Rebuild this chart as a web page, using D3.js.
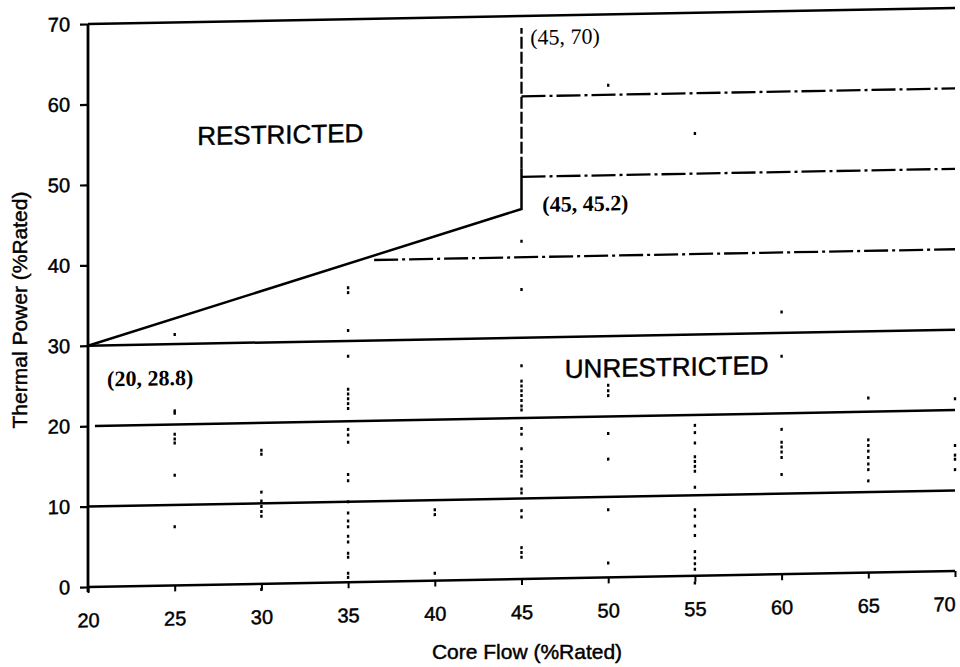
<!DOCTYPE html>
<html><head><meta charset="utf-8">
<script src="https://cdn.jsdelivr.net/npm/d3@7"></script>
<style>body{margin:0;background:#fff}svg{display:block}</style>
</head><body>
<svg id="c" width="960" height="667"></svg>
<script>
// ---- data ----
const flowTicks = [20,25,30,35,40,45,50,55,60,65,70];
const powerTicks = [0,10,20,30,40,50,60,70];
const solidLevels = [0,10,20,30,70];
const solidStarts = [20,20,20.4,20,20];
const dashedLevels = [40,50,60];
const dashedStarts = [36.5,45,45];
const lineEnd = 70;
const boundaryFlow = [20,45,45];
const boundaryPower = [30,46,51];
const verticalFlow = [45,45];
const verticalPower = [51,68.5];
const sampleFlows = [25,30,35,40,45,50,55,60,65,70];
const samplePowers = [
  [31.2,21.7,21.4,18.8,18.2,17.7,13.7,7.3],
  [16.6,16.1,11.4,10.3,9.6,9.0,8.4,-0.7],
  [36.6,36.0,31.3,28.1,24.0,23.4,22.8,22.2,21.6,19.0,18.3,17.4,13.4,12.6,10.0,8.6,7.6,6.9,5.7,5.0,3.6,3.1,1.1,0.6],
  [8.8,8.2,0.9],
  [42.0,36.0,26.5,24.6,24.0,23.4,22.8,22.2,21.5,21.0,18.7,18.0,16.2,14.6,14.0,13.4,12.8,11.2,10.7,8.5,7.7,3.9,3.3,2.7],
  [61.2,23.9,23.2,22.6,17.9,14.7,8.4,1.8],
  [55.0,18.7,17.8,16.5,14.8,14.2,13.6,13.0,11.0,8.2,7.4,6.2,5.0,3.0,2.2,1.5,0.8,-0.9],
  [32.6,27.1,18.0,16.4,15.8,15.2,14.5,12.4],
  [21.7,16.5,15.8,15.1,14.3,13.5,12.8,11.4],
  [21.4,15.6,14.4,13.9,12.6]
];
const regionLabels = ["RESTRICTED","UNRESTRICTED"];
const regionFlow = [26.3,47.5];
const regionPower = [54.7,24.9];
const pointLabels = ["(20, 28.8)","(45, 70)","(45, 45.2)"];
const pointLabelFlow = [21.1,45.5,46.2];
const pointLabelPower = [24.9,66.4,45.6];
const xTitle = "Core Flow (%Rated)";
const yTitle = "Thermal Power (%Rated)";

// ---- chart ----
const svg = d3.select("#c");
const sans = "'Liberation Sans', Arial, sans-serif";
const serif = "'Liberation Serif', 'Times New Roman', serif";
const x = d3.scaleLinear().domain([20,70]).range([0,867]);
const y = d3.scaleLinear().domain([0,70]).range([587,24]);

const g = svg.append("g").attr("transform","translate(88,0) skewY(-1.06)");

function heavy(sel){ sel.attr("stroke","#000").attr("stroke-width",0.45).attr("fill","#000"); }

// y axis
const ya = g.append("g").call(d3.axisLeft(y).tickValues(powerTicks).tickSize(8).tickSizeOuter(0).tickPadding(10));
ya.select(".domain").remove();
ya.selectAll(".tick line").attr("stroke","#000").attr("stroke-width",2.2);
ya.selectAll("text").attr("font-family",sans).attr("font-size",20).call(heavy);
g.append("line").attr("x1",0).attr("x2",0).attr("y1",y(70)).attr("y2",y(0)+5)
  .attr("stroke","#000").attr("stroke-width",2.8);

// x axis
const xa = g.append("g").attr("transform",`translate(0,${y(0)})`)
  .call(d3.axisBottom(x).tickValues(flowTicks).tickSize(6).tickSizeOuter(0).tickPadding(20));
xa.select(".domain").remove();
xa.selectAll(".tick line").attr("stroke","#000").attr("stroke-width",2);
xa.selectAll("text").attr("font-family",sans).attr("font-size",20).call(heavy)
  .attr("dx",d=>d===70?-11:0);

// solid levels
g.selectAll("line.solid").data(solidLevels).join("line").attr("class","solid")
  .attr("x1",(d,i)=>x(solidStarts[i])).attr("x2",x(lineEnd))
  .attr("y1",d=>y(d)).attr("y2",d=>y(d))
  .attr("stroke","#000").attr("stroke-width",2.5);

// dashed levels
g.selectAll("line.dash").data(dashedLevels).join("line").attr("class","dash")
  .attr("x1",(d,i)=>x(dashedStarts[i])).attr("x2",x(lineEnd))
  .attr("y1",d=>y(d)).attr("y2",d=>y(d))
  .attr("stroke","#000").attr("stroke-width",2.3).attr("stroke-dasharray","24,4,3,4");

// boundary
const line = d3.line().x(d=>x(d[0])).y(d=>y(d[1]));
g.append("path").attr("d",line(boundaryFlow.map((f,i)=>[f,boundaryPower[i]])))
  .attr("fill","none").attr("stroke","#000").attr("stroke-width",2.5);
g.append("path").attr("d",line(verticalFlow.map((f,i)=>[f,verticalPower[i]])))
  .attr("fill","none").attr("stroke","#000").attr("stroke-width",2.3).attr("stroke-dasharray","12,3");

// sample points
const pts = [];
sampleFlows.forEach((f,i)=>samplePowers[i].forEach(p=>pts.push([f,p])));
g.selectAll("rect.pt").data(pts).join("rect").attr("class","pt")
  .attr("x",d=>x(d[0])-1.2).attr("y",d=>y(d[1])-1.5)
  .attr("width",2.4).attr("height",3).attr("fill","#000");

// region labels
g.selectAll("text.region").data(regionLabels).join("text").attr("class","region")
  .attr("x",(d,i)=>x(regionFlow[i])).attr("y",(d,i)=>y(regionPower[i]))
  .attr("font-family",sans).attr("font-size",26).text(d=>d).call(heavy);

// point labels
g.selectAll("text.plab").data(pointLabels).join("text").attr("class","plab")
  .attr("x",(d,i)=>x(pointLabelFlow[i])).attr("y",(d,i)=>y(pointLabelPower[i]))
  .attr("font-family",serif).attr("font-size",22).attr("font-weight",(d,i)=>i===1?"normal":"bold")
  .attr("fill","#000").text(d=>d);

// titles
svg.append("text").attr("x",527).attr("y",659).attr("text-anchor","middle")
  .attr("font-family",sans).attr("font-size",21).text(xTitle).call(heavy);
svg.append("text").attr("transform","translate(27,310) rotate(-90)").attr("text-anchor","middle")
  .attr("font-family",sans).attr("font-size",21).text(yTitle).call(heavy);
</script>
</body></html>
